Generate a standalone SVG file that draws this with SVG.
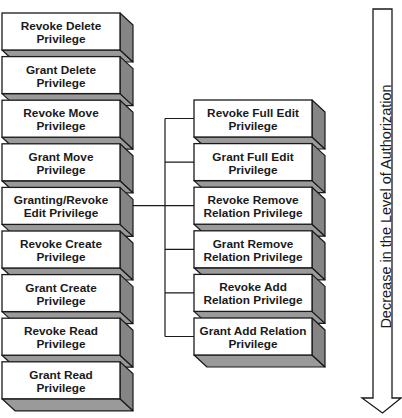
<svg xmlns="http://www.w3.org/2000/svg" xmlns:xlink="http://www.w3.org/1999/xlink" width="402" height="418" viewBox="0 0 402 418">
<style>
.side{fill:#858585;stroke:#1a1a1a;stroke-width:1.2;stroke-linejoin:round}
.bot{fill:#9a9a9a;stroke:#1a1a1a;stroke-width:1.2;stroke-linejoin:round}
.front{fill:#ffffff;stroke:#1a1a1a;stroke-width:1.3}
.lbl{font-family:"Liberation Sans",Arial,sans-serif;font-weight:bold;font-size:11.8px;fill:#1a1a1a;text-anchor:middle}
.conn{fill:none;stroke:#1a1a1a;stroke-width:1.2}
.axis{font-family:"Liberation Sans",Arial,sans-serif;font-size:14.5px;fill:#1a1a1a;text-anchor:middle}
</style>
<defs>
<g id="box">
<polygon class="bot" points="0,37 118,37 131,49 13,49"/>
<polygon class="side" points="118,0 131,12 131,49 118,37"/>
<rect class="front" x="0" y="0" width="118" height="37"/>
</g>
</defs>
<g id="connectors">
<path class="conn" d="M133,205.7 H194 M165,118.5 V336.5 M165,118.5 H194 M165,162.1 H194 M165,249.3 H194 M165,292.9 H194 M165,336.5 H194"/>
</g>
<g id="n1" transform="translate(2,13)"><use xlink:href="#box"/><text class="lbl" x="59" y="17">Revoke Delete</text><text class="lbl" x="59" y="30">Privilege</text></g>
<g id="n2" transform="translate(2,56.6)"><use xlink:href="#box"/><text class="lbl" x="59" y="17">Grant Delete</text><text class="lbl" x="59" y="30">Privilege</text></g>
<g id="n3" transform="translate(2,100.2)"><use xlink:href="#box"/><text class="lbl" x="59" y="17">Revoke Move</text><text class="lbl" x="59" y="30">Privilege</text></g>
<g id="n4" transform="translate(2,143.8)"><use xlink:href="#box"/><text class="lbl" x="59" y="17">Grant Move</text><text class="lbl" x="59" y="30">Privilege</text></g>
<g id="n5" transform="translate(2,187.4)"><use xlink:href="#box"/><text class="lbl" x="59" y="17">Granting/Revoke</text><text class="lbl" x="59" y="30">Edit Privilege</text></g>
<g id="n6" transform="translate(2,231)"><use xlink:href="#box"/><text class="lbl" x="59" y="17">Revoke Create</text><text class="lbl" x="59" y="30">Privilege</text></g>
<g id="n7" transform="translate(2,274.6)"><use xlink:href="#box"/><text class="lbl" x="59" y="17">Grant Create</text><text class="lbl" x="59" y="30">Privilege</text></g>
<g id="n8" transform="translate(2,318.2)"><use xlink:href="#box"/><text class="lbl" x="59" y="17">Revoke Read</text><text class="lbl" x="59" y="30">Privilege</text></g>
<g id="n9" transform="translate(2,361.8)"><use xlink:href="#box"/><text class="lbl" x="59" y="17">Grant Read</text><text class="lbl" x="59" y="30">Privilege</text></g>
<g id="r1" transform="translate(194,100)"><use xlink:href="#box"/><text class="lbl" x="59" y="17">Revoke Full Edit</text><text class="lbl" x="59" y="30">Privilege</text></g>
<g id="r2" transform="translate(194,143.6)"><use xlink:href="#box"/><text class="lbl" x="59" y="17">Grant Full Edit</text><text class="lbl" x="59" y="30">Privilege</text></g>
<g id="r3" transform="translate(194,187.2)"><use xlink:href="#box"/><text class="lbl" x="59" y="17">Revoke Remove</text><text class="lbl" x="59" y="30">Relation Privilege</text></g>
<g id="r4" transform="translate(194,230.8)"><use xlink:href="#box"/><text class="lbl" x="59" y="17">Grant Remove</text><text class="lbl" x="59" y="30">Relation Privilege</text></g>
<g id="r5" transform="translate(194,274.4)"><use xlink:href="#box"/><text class="lbl" x="59" y="17">Revoke Add</text><text class="lbl" x="59" y="30">Relation Privilege</text></g>
<g id="r6" transform="translate(194,318)"><use xlink:href="#box"/><text class="lbl" x="59" y="17">Grant Add Relation</text><text class="lbl" x="59" y="30">Privilege</text></g>
<g id="arrow">
<path d="M373,9 H392 V398 H401 L382.5,413 L362,398 H373 Z" fill="#ffffff" stroke="#1a1a1a" stroke-width="1.3" stroke-linejoin="miter"/>
<text class="axis" transform="translate(390.5,206.5) rotate(-90)">Decrease in the Level of Authorization</text>
</g>
</svg>
